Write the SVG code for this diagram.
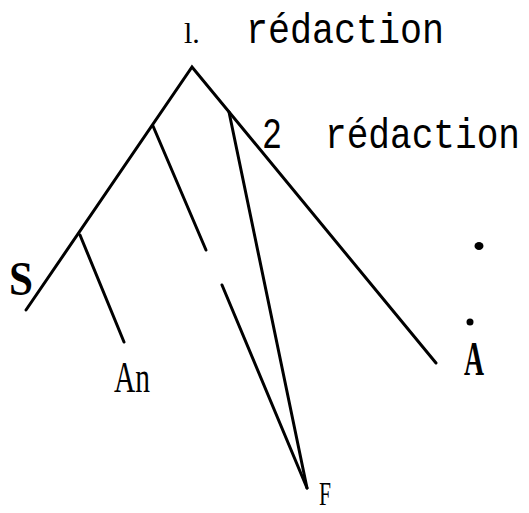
<svg xmlns="http://www.w3.org/2000/svg" width="529" height="513" viewBox="0 0 529 513">
<style>
.l{stroke:#000;stroke-width:3;fill:none;stroke-linecap:round}
.tw{font-family:"Liberation Mono","DejaVu Sans Mono",monospace;fill:#000}
.lb{font-family:"Liberation Serif",serif;fill:#000}
</style>
<rect width="529" height="513" fill="#fff"/>
<g id="connectors">
<polyline class="l" points="26,310 192,67 436,363"/>
<line class="l" x1="80" y1="235" x2="124" y2="342"/>
<line class="l" x1="153" y1="126" x2="206" y2="250"/>
<line class="l" x1="222" y1="285" x2="307" y2="488"/>
<line class="l" x1="229" y1="112" x2="307" y2="488"/>
</g>
<g id="title1"><text class="lb" x="184" y="43" font-size="30">l.</text><text class="tw" x="246" y="43" font-size="43" textLength="198" lengthAdjust="spacingAndGlyphs">rédaction</text></g>
<g id="title2"><text class="tw" x="262" y="148" font-size="44" textLength="20" lengthAdjust="spacingAndGlyphs">2</text><text class="tw" transform="translate(325,148) scale(1,1.16)" x="0" y="0" font-size="37" textLength="195" lengthAdjust="spacingAndGlyphs">rédaction</text></g>
<g id="S"><text class="lb" x="9" y="295" font-size="48" font-weight="bold" textLength="24" lengthAdjust="spacingAndGlyphs">S</text></g>
<g id="An"><text class="lb" x="114" y="392" font-size="45" textLength="36" lengthAdjust="spacingAndGlyphs">An</text></g>
<g id="F"><text class="lb" x="319" y="505" font-size="34" textLength="12" lengthAdjust="spacingAndGlyphs">F</text></g>
<g id="A"><circle cx="470" cy="322" r="3.5" fill="#000"/><text class="lb" x="464" y="375" font-size="48" font-weight="bold" textLength="20" lengthAdjust="spacingAndGlyphs">A</text></g>
<g id="dot"><ellipse cx="479" cy="246" rx="4.5" ry="4" fill="#000"/></g>
</svg>
